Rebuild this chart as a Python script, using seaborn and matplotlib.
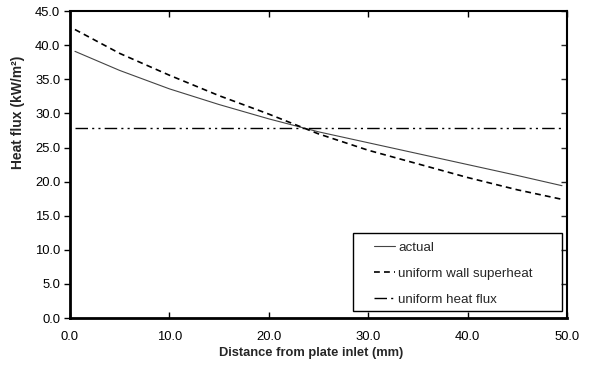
import numpy as np
import pandas as pd
import matplotlib
matplotlib.use('Agg')
import matplotlib.pyplot as plt
from matplotlib.patches import Rectangle
import seaborn as sns

# distance along plate (mm) and heat flux (kW/m2)
distance = [0.5, 5.0, 10.0, 15.0, 20.0, 25.0, 30.0, 35.0, 40.0, 45.0, 49.5]
actual = [39.1, 36.3, 33.6, 31.3, 29.2, 27.3, 25.7, 24.1, 22.5, 20.9, 19.4]
uniform_superheat = [42.3, 38.8, 35.6, 32.6, 29.9, 27.0, 24.6, 22.6, 20.6, 18.8, 17.4]
uniform_flux = [27.9] * len(distance)

x_ticks = [0, 10, 20, 30, 40, 50]
y_ticks = [0, 5, 10, 15, 20, 25, 30, 35, 40, 45]

df = pd.DataFrame({'x': distance, 'actual': actual,
                   'superheat': uniform_superheat, 'flux': uniform_flux})

sns.set_theme(style='white')
plt.rcParams['font.family'] = ['Liberation Sans', 'DejaVu Sans']

fig = plt.figure(figsize=(5.9, 3.7), dpi=100)
ax = fig.add_axes([0.1186, 0.1405, 0.8424, 0.8295])

sns.lineplot(data=df, x='x', y='actual', ax=ax, color='#444444', lw=0.8, label='actual')
sns.lineplot(data=df, x='x', y='superheat', ax=ax, color='black', lw=1.2,
             dashes=(3.5, 2.5), label='uniform wall superheat')
sns.lineplot(data=df, x='x', y='flux', ax=ax, color='black', lw=1.0,
             dashes=(9, 3, 1.5, 3, 1.5, 3), label='uniform heat flux')

ax.set_xlim(0, 50)
ax.set_ylim(0, 45)
ax.set_xticks(x_ticks)
ax.set_xticklabels([f'{v:.1f}' for v in x_ticks], fontsize=9.4)
ax.set_yticks(y_ticks)
ax.set_yticklabels([f'{v:.1f}' for v in y_ticks], fontsize=9.4)
ax.tick_params(axis='x', direction='in', top=True, bottom=True, length=4, width=1, pad=9, colors='black')
ax.tick_params(axis='y', which='both', left=True, length=4, width=1, pad=3, colors='black')
ax.yaxis.set_tick_params(direction='out')
# right side: inward ticks
ax2 = ax.secondary_yaxis('right')
ax2.set_yticks(y_ticks)
ax2.tick_params(direction='in', length=4, width=1, labelright=False)
ax2.spines['right'].set_visible(False)

for s in ax.spines.values():
    s.set_visible(True)
    s.set_color('black')
    s.set_linewidth(1.5)
ax.spines['left'].set_linewidth(2)
ax.spines['bottom'].set_linewidth(2)

ax.set_xlabel('Distance from plate inlet (mm)', fontsize=9.3, fontweight='bold', labelpad=3)
ax.set_ylabel('Heat flux (kW/m²)', fontsize=10, fontweight='bold', labelpad=7)
# labels sit off-centre in the original
ax.xaxis.label.set_x(0.485)
ax.yaxis.label.set_y(0.671)
ax.grid(False)

leg = ax.legend(loc='upper left', bbox_to_anchor=(0.612, 0.250), frameon=False,
                fontsize=9.6, handlelength=1.6, handletextpad=0.2, labelspacing=1.04,
                borderpad=0, borderaxespad=0)
ax.add_patch(Rectangle((0.569, 0.023), 0.421, 0.254, transform=ax.transAxes,
                       fill=False, edgecolor='black', lw=1.0, zorder=5))

fig.savefig('out.png', dpi=100)
